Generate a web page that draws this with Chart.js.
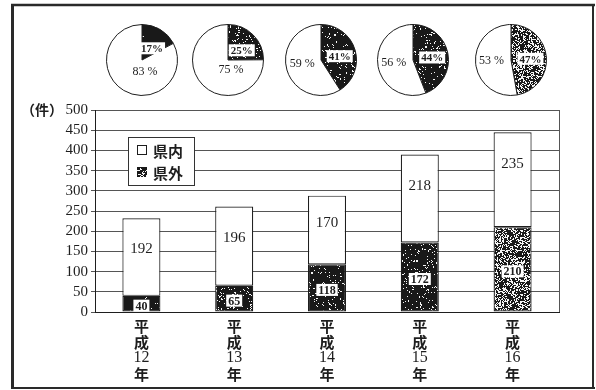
<!DOCTYPE html>
<html>
<head>
<meta charset="utf-8">
<script src="https://cdn.jsdelivr.net/npm/chart.js@4.4.1/dist/chart.umd.min.js"></script>
<style>
  html, body { margin: 0; padding: 0; background: #fff; }
  #wrap { position: relative; width: 596px; height: 390px; overflow: hidden; }
  #main { position: absolute; left: 0; top: 0; }
  .pie { position: absolute; }
</style>
</head>
<body>
<div id="wrap"><canvas id="main" width="596" height="390"></canvas></div>
<script>
// 件数 (平成12〜16年)
const years = ["12", "13", "14", "15", "16"];
const inPref = [192, 196, 170, 218, 235];   // 県内
const outPref = [40, 65, 118, 172, 210];    // 県外
const yMin = 0, yMax = 500, yStep = 50;

const SERIF = '"Liberation Serif", "DejaVu Serif", serif';
const JP = '"Noto Sans CJK JP", sans-serif';
const INK = "#1e1e1e";

// stipple texture for the 県外 fill, darker for earlier years
const grain = [0.95, 0.78, 0.8, 0.82, 0.6];
function hash(i, j, s) {
  const v = Math.sin(i * 12.9898 + j * 78.233 + s * 37.719) * 43758.5453;
  return v - Math.floor(v);
}
function stipple(density, seed) {
  const c = document.createElement("canvas");
  c.width = c.height = 64;
  const g = c.getContext("2d");
  const img = g.createImageData(64, 64);
  for (let j = 0; j < 64; j++) {
    for (let i = 0; i < 64; i++) {
      const n = hash(i, j, seed) * 0.7 + hash(i >> 1, j >> 1, seed + 5) * 0.3;
      const k = (j * 64 + i) * 4;
      const v = n < density ? 25 : 245;
      img.data[k] = img.data[k + 1] = img.data[k + 2] = v;
      img.data[k + 3] = 255;
    }
  }
  g.putImageData(img, 0, 0);
  return g.createPattern(c, "repeat");
}
const outFill = grain.map((d, i) => stipple(d, i + 1));
const legendFill = stipple(0.7, 9);

const pct = outPref.map((v, i) => Math.round(v / (v + inPref[i]) * 100));

function boxedText(ctx, txt, x, y, font) {
  ctx.font = font;
  const w = ctx.measureText(txt).width;
  ctx.fillStyle = "#fff";
  ctx.fillRect(x - w / 2 - 2, y - 6, w + 4, 12);
  ctx.fillStyle = INK;
  ctx.fillText(txt, x, y + 1);
}

const barText = {
  id: "barText",
  afterDatasetsDraw(chart) {
    const ctx = chart.ctx;
    const lower = chart.getDatasetMeta(0).data;
    const upper = chart.getDatasetMeta(1).data;
    ctx.save();
    ctx.textAlign = "center";
    ctx.textBaseline = "middle";
    lower.forEach((bar, i) => {
      const { x, y, base } = bar.getProps(["x", "y", "base"], true);
      boxedText(ctx, String(outPref[i]), x, (y + base) / 2 + 2, "bold 12px " + SERIF);
    });
    upper.forEach((bar, i) => {
      const { x, y, base } = bar.getProps(["x", "y", "base"], true);
      ctx.font = "15px " + SERIF;
      ctx.fillStyle = INK;
      ctx.fillText(String(inPref[i]), x, y + Math.min((base - y) * 0.4, 32));
    });
    ctx.restore();
  },
  afterDraw(chart) {
    const ctx = chart.ctx;
    const area = chart.chartArea;
    const xs = chart.scales.x, ys = chart.scales.y;
    ctx.save();
    // right edge of the plot
    ctx.strokeStyle = "#555";
    ctx.lineWidth = 1;
    ctx.beginPath();
    ctx.moveTo(area.right + 0.5, area.top);
    ctx.lineTo(area.right + 0.5, area.bottom);
    ctx.stroke();

    // unit label
    ctx.fillStyle = INK;
    ctx.textAlign = "center";
    ctx.textBaseline = "middle";
    ctx.font = "bold 14px " + JP;
    ctx.fillText("（件）", 42, ys.getPixelForValue(yMax));

    // category labels, written vertically
    years.forEach((yr, i) => {
      const x = xs.getPixelForValue(i);
      const b = area.bottom;
      ctx.font = "bold 15px " + JP;
      ctx.fillText("平", x, b + 14);
      ctx.fillText("成", x, b + 30);
      ctx.font = "16px " + SERIF;
      ctx.fillText(yr, x, b + 46);
      ctx.font = "bold 15px " + JP;
      ctx.fillText("年", x, b + 62);
    });

    // legend box
    const lx = area.left + 33, ly = area.top + 27;
    ctx.fillStyle = "#fff";
    ctx.fillRect(lx, ly, 66, 48);
    ctx.strokeStyle = "#333";
    ctx.strokeRect(lx + 0.5, ly + 0.5, 66, 48);
    ctx.strokeStyle = INK;
    ctx.strokeRect(lx + 9.5, ly + 8.5, 9, 9);
    ctx.fillStyle = legendFill;
    ctx.fillRect(lx + 9, ly + 30, 10, 10);
    ctx.fillStyle = INK;
    ctx.textAlign = "left";
    ctx.font = "bold 15px " + JP;
    ctx.fillText("県内", lx + 25, ly + 14);
    ctx.fillText("県外", lx + 25, ly + 36);

    // frame
    ctx.strokeStyle = "#2a2a2a";
    ctx.lineWidth = 3;
    ctx.beginPath(); ctx.moveTo(12.5, 4); ctx.lineTo(12.5, 389); ctx.stroke();
    ctx.lineWidth = 2.5;
    ctx.beginPath(); ctx.moveTo(11, 5); ctx.lineTo(595, 5); ctx.stroke();
    ctx.lineWidth = 2;
    ctx.beginPath(); ctx.moveTo(593, 4); ctx.lineTo(593, 389); ctx.stroke();
    ctx.beginPath(); ctx.moveTo(11, 388); ctx.lineTo(595, 388); ctx.stroke();
    ctx.restore();
  }
};

new Chart(document.getElementById("main"), {
  type: "bar",
  data: {
    labels: years,
    datasets: [
      {
        label: "県外",
        data: outPref,
        backgroundColor: outFill,
        borderColor: INK,
        borderWidth: 1.2,
        borderSkipped: false,
        barPercentage: 0.41,
        categoryPercentage: 1
      },
      {
        label: "県内",
        data: inPref,
        backgroundColor: "#fff",
        borderColor: INK,
        borderWidth: 1.2,
        borderSkipped: false,
        barPercentage: 0.41,
        categoryPercentage: 1
      }
    ]
  },
  options: {
    responsive: false,
    animation: false,
    devicePixelRatio: 1,
    layout: { padding: { top: 110, right: 37, left: 0, bottom: 0 } },
    plugins: { legend: { display: false }, tooltip: { enabled: false } },
    scales: {
      x: {
        stacked: true,
        grid: { drawOnChartArea: false, drawTicks: false },
        border: { display: true, color: INK, width: 1 },
        ticks: { display: false },
        afterFit(s) { s.height = 78; }
      },
      y: {
        stacked: true,
        min: yMin,
        max: yMax,
        ticks: { stepSize: yStep, autoSkip: false, color: INK, padding: 3, font: { family: SERIF, size: 15 } },
        grid: { color: "#555", lineWidth: 1, tickLength: 4 },
        border: { color: INK, width: 1 },
        afterFit(s) { s.width = 95; }
      }
    }
  },
  plugins: [barText]
});

// share of 県外 / 県内 for each year
const pieX = [142, 228, 321, 413, 511];
const pieText = {
  id: "pieText",
  afterDatasetsDraw(chart) {
    const ctx = chart.ctx;
    const i = chart.options.yearIndex;
    const arcs = chart.getDatasetMeta(0).data;
    ctx.save();
    ctx.textAlign = "center";
    ctx.textBaseline = "middle";
    arcs.forEach((arc, k) => {
      const { x, y, startAngle, endAngle, outerRadius } = arc.getProps(["x", "y", "startAngle", "endAngle", "outerRadius"], true);
      const mid = (startAngle + endAngle) / 2;
      const c = Math.cos(mid), s = Math.sin(mid);
      if (k === 0) {
        const r = outerRadius * 0.55;
        boxedText(ctx, pct[i] + "%", x + c * r, y + s * r * 0.7, "bold 11px " + SERIF);
      } else {
        // 県内 share sits under the centre, or to the left when the slice wraps round
        const px = Math.abs(c) > 0.8 ? x + c * outerRadius * 0.55 : x + 3;
        const py = y + s * outerRadius * 0.38;
        ctx.font = "12px " + SERIF;
        ctx.fillStyle = INK;
        ctx.fillText((100 - pct[i]) + " %", px, py);
      }
    });
    ctx.restore();
  }
};

years.forEach((yr, i) => {
  const cv = document.createElement("canvas");
  cv.className = "pie";
  cv.width = 84;
  cv.height = 84;
  cv.style.left = (pieX[i] - 42) + "px";
  cv.style.top = "18px";
  document.getElementById("wrap").appendChild(cv);
  new Chart(cv, {
    type: "pie",
    data: {
      labels: ["県外", "県内"],
      datasets: [{
        data: [outPref[i], inPref[i]],
        backgroundColor: [outFill[i], "#fff"],
        borderColor: INK,
        borderWidth: 1
      }]
    },
    options: {
      yearIndex: i,
      responsive: false,
      animation: false,
      devicePixelRatio: 1,
      layout: { padding: 6 },
      plugins: { legend: { display: false }, tooltip: { enabled: false } }
    },
    plugins: [pieText]
  });
});
</script>
</body>
</html>
